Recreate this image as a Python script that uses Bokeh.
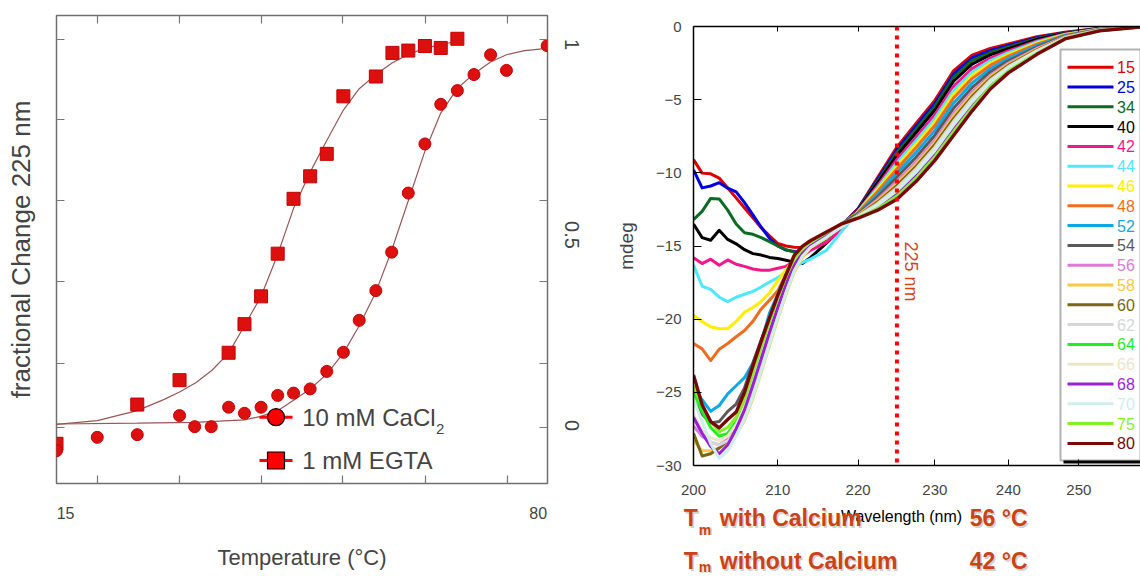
import math
from bokeh.plotting import figure
from bokeh.models import (Range1d, FixedTicker, LinearAxis, Label, Span, BoxAnnotation,
                          NumeralTickFormatter, CustomJSTickFormatter)
from bokeh.layouts import row, column
from bokeh.embed import file_html
from bokeh.resources import INLINE
from bokeh.core.properties import value

# ---------------- left panel data (fractional change at 225 nm) ----------------
temp_egta = [15.0, 25.7, 31.3, 37.8, 39.9, 42.1, 44.3, 46.4, 48.6, 50.8, 53.0, 57.3, 59.5, 61.6, 63.8, 65.9, 68.1]
frac_egta = [-0.048, 0.055, 0.119, 0.191, 0.266, 0.339, 0.451, 0.595, 0.654, 0.713, 0.864, 0.916, 0.978, 0.984, 0.996, 0.991, 1.015]
temp_ca = [15.0, 20.4, 25.7, 31.3, 33.3, 35.5, 37.8, 39.9, 42.1, 44.3, 46.4, 48.6, 50.8, 53.0, 55.1, 57.3,
           59.4, 61.6, 63.8, 65.9, 68.1, 70.3, 72.5, 74.6, 80.0]
frac_ca = [-0.066, -0.031, -0.024, 0.026, -0.003, -0.003, 0.048, 0.032, 0.048, 0.079, 0.085, 0.096, 0.142, 0.192,
           0.276, 0.354, 0.455, 0.610, 0.739, 0.843, 0.879, 0.921, 0.973, 0.932, 0.997]
fit_egta_t = [15.0, 20.4, 25.7, 29.2, 31.3, 33.5, 35.6, 37.8, 39.9, 42.1, 44.3, 46.4, 48.6, 50.8, 53.0, 55.1,
              57.3, 59.5, 61.6, 63.8, 65.9, 68.1]
fit_egta_f = [0.003, 0.013, 0.039, 0.068, 0.088, 0.113, 0.145, 0.19, 0.262, 0.339, 0.449, 0.57, 0.665, 0.748,
              0.828, 0.884, 0.921, 0.952, 0.974, 0.99, 1.0, 1.008]
fit_ca_t = [15.0, 25.7, 33.3, 39.9, 42.1, 44.3, 46.4, 48.6, 50.8, 53.0, 55.1, 57.3, 59.4, 61.6, 63.8, 65.9,
            68.1, 70.3, 72.5, 74.6, 77.0, 80.0]
fit_ca_f = [0.004, 0.006, 0.008, 0.015, 0.024, 0.039, 0.066, 0.096, 0.135, 0.19, 0.262, 0.35, 0.46, 0.59,
            0.72, 0.82, 0.885, 0.923, 0.954, 0.973, 0.984, 0.99]
temp_ticks = [20.4, 31.3, 42.1, 52.9, 63.9, 74.8]
frac_ticks = [-0.006, 0.162, 0.379, 0.591, 0.802, 1.012]
frac_label_ticks = [0, 0.5, 1]
temp_label_ticks = [16.2, 78.8]          # where the "15" and "80" labels sit
legend_left = ["10 mM CaCl", "1 mM EGTA"]

# ---------------- right panel data (CD spectra, mdeg) ----------------
wavelength = [200, 201, 202, 203, 204, 205, 206, 207, 208, 209, 210, 211, 212, 213, 214, 216, 218, 220,
              222.5, 225, 227.5, 230, 232.5, 235, 237.5, 240, 244, 248, 253, 259]
cd_15 = [-9.10, -10.02, -10.07, -10.36, -11.03, -11.71, -12.40, -13.08, -13.75, -14.31, -14.83, -15.00, -15.08, -15.10, -14.85, -14.30, -13.55, -12.44, -10.33, -8.24, -6.62, -5.05, -3.03, -1.96, -1.50, -1.20, -0.70, -0.40, -0.12, 0.00]
cd_25 = [-9.80, -11.03, -10.90, -10.67, -11.05, -11.30, -12.04, -12.87, -13.72, -14.47, -15.00, -15.28, -15.38, -15.41, -15.00, -14.25, -13.55, -12.47, -10.44, -8.42, -6.82, -5.26, -3.25, -2.15, -1.64, -1.30, -0.76, -0.42, -0.13, 0.00]
cd_34 = [-13.20, -12.63, -11.75, -11.78, -12.55, -13.50, -14.10, -14.20, -14.43, -14.70, -15.00, -15.25, -15.42, -15.50, -15.20, -14.50, -13.65, -12.51, -10.56, -8.60, -7.02, -5.46, -3.47, -2.34, -1.78, -1.40, -0.82, -0.45, -0.14, 0.00]
cd_40 = [-13.50, -14.43, -14.61, -13.93, -14.55, -14.85, -15.25, -15.52, -15.62, -15.78, -15.85, -15.97, -16.10, -16.20, -15.80, -14.80, -13.75, -12.55, -10.69, -8.81, -7.26, -5.71, -3.74, -2.57, -1.94, -1.52, -0.89, -0.47, -0.15, 0.00]
cd_42 = [-15.80, -16.20, -15.90, -16.31, -15.95, -16.25, -16.39, -16.57, -16.65, -16.65, -16.52, -16.39, -16.05, -15.70, -15.30, -14.75, -13.80, -12.60, -10.87, -9.09, -7.58, -6.03, -4.09, -2.88, -2.16, -1.67, -0.99, -0.51, -0.16, -0.01]
cd_44 = [-16.30, -17.75, -17.97, -18.50, -18.80, -18.50, -18.30, -18.10, -17.80, -17.46, -17.16, -16.80, -16.43, -16.14, -15.90, -15.30, -13.95, -12.64, -11.01, -9.31, -7.81, -6.28, -4.36, -3.11, -2.33, -1.79, -1.06, -0.54, -0.17, -0.01]
cd_46 = [-19.75, -20.16, -20.52, -20.65, -20.64, -20.15, -19.52, -19.20, -18.79, -18.20, -17.37, -16.62, -15.92, -15.46, -15.10, -14.45, -13.50, -12.68, -11.14, -9.52, -8.05, -6.53, -4.62, -3.34, -2.50, -1.91, -1.13, -0.56, -0.18, -0.01]
cd_48 = [-21.66, -22.03, -22.83, -22.05, -21.66, -21.20, -20.77, -20.15, -19.30, -18.70, -18.05, -16.95, -15.90, -15.35, -15.00, -14.40, -13.50, -12.72, -11.28, -9.74, -8.29, -6.77, -4.89, -3.56, -2.66, -2.03, -1.20, -0.59, -0.20, -0.01]
cd_52 = [-24.73, -25.50, -26.30, -25.90, -25.10, -24.55, -24.00, -23.00, -21.55, -19.57, -18.30, -17.00, -16.10, -15.40, -14.95, -14.35, -13.45, -12.77, -11.46, -10.02, -8.61, -7.10, -5.24, -3.87, -2.89, -2.19, -1.30, -0.63, -0.21, -0.02]
cd_54 = [-25.60, -26.50, -27.10, -27.00, -26.30, -25.80, -24.70, -23.00, -21.40, -19.90, -18.40, -17.00, -15.80, -15.15, -14.75, -14.20, -13.45, -12.82, -11.64, -10.30, -8.93, -7.43, -5.59, -4.18, -3.11, -2.34, -1.40, -0.66, -0.22, -0.02]
cd_56 = [-27.30, -28.00, -28.40, -28.60, -28.20, -27.30, -26.20, -24.60, -22.80, -21.00, -19.30, -17.70, -16.30, -15.50, -15.00, -14.35, -13.60, -12.88, -11.82, -10.59, -9.25, -7.76, -5.95, -4.48, -3.33, -2.50, -1.49, -0.70, -0.24, -0.02]
cd_58 = [-28.30, -29.00, -29.00, -28.80, -28.50, -27.90, -26.90, -25.40, -23.60, -21.80, -20.00, -18.30, -16.80, -15.80, -15.10, -14.40, -13.65, -12.90, -11.91, -10.73, -9.41, -7.92, -6.12, -4.63, -3.44, -2.58, -1.54, -0.72, -0.25, -0.02]
cd_60 = [-27.80, -29.35, -29.20, -28.80, -28.30, -27.50, -26.40, -24.80, -23.00, -21.20, -19.50, -17.90, -16.50, -15.60, -15.05, -14.35, -13.60, -12.93, -12.00, -10.87, -9.57, -8.08, -6.30, -4.79, -3.55, -2.66, -1.59, -0.73, -0.25, -0.02]
cd_62 = [-26.80, -27.80, -28.40, -28.60, -28.30, -27.60, -26.60, -25.00, -23.20, -21.40, -19.60, -18.00, -16.60, -15.60, -15.00, -14.30, -13.60, -12.95, -12.09, -11.02, -9.72, -8.25, -6.48, -4.94, -3.66, -2.74, -1.64, -0.75, -0.26, -0.02]
cd_64 = [-25.00, -26.30, -27.40, -28.00, -27.80, -27.00, -25.80, -24.00, -22.20, -20.50, -18.90, -17.40, -16.10, -15.30, -14.80, -14.20, -13.50, -13.01, -12.27, -11.30, -10.04, -8.58, -6.83, -5.25, -3.88, -2.89, -1.73, -0.79, -0.27, -0.03]
cd_66 = [-26.50, -27.60, -28.10, -28.30, -28.00, -27.20, -26.00, -24.30, -22.50, -20.70, -19.00, -17.50, -16.20, -15.40, -14.90, -14.25, -13.55, -12.98, -12.18, -11.16, -9.88, -8.41, -6.65, -5.09, -3.77, -2.82, -1.68, -0.77, -0.27, -0.02]
cd_68 = [-26.70, -27.80, -28.70, -29.20, -28.60, -27.50, -26.20, -24.50, -22.70, -20.90, -19.20, -17.60, -16.30, -15.50, -15.00, -14.30, -13.60, -13.02, -12.31, -11.37, -10.12, -8.66, -6.92, -5.32, -3.94, -2.93, -1.76, -0.80, -0.28, -0.03]
cd_70 = [-25.50, -27.00, -28.50, -29.50, -29.00, -28.00, -26.80, -25.30, -23.50, -21.70, -19.90, -18.20, -16.70, -15.70, -15.10, -14.40, -13.65, -13.00, -12.22, -11.23, -9.96, -8.49, -6.74, -5.17, -3.83, -2.85, -1.71, -0.78, -0.27, -0.03]
cd_75 = [-24.60, -25.90, -27.00, -27.70, -27.40, -26.70, -25.50, -23.70, -21.90, -20.20, -18.60, -17.10, -15.90, -15.20, -14.75, -14.10, -13.45, -13.06, -12.45, -11.59, -10.36, -8.90, -7.18, -5.55, -4.10, -3.05, -1.83, -0.82, -0.29, -0.03]
cd_80 = [-23.82, -25.85, -27.00, -27.43, -26.86, -26.35, -25.00, -23.20, -21.50, -19.90, -18.38, -16.97, -15.65, -15.02, -14.64, -14.05, -13.47, -13.10, -12.55, -11.80, -10.60, -9.15, -7.45, -5.78, -4.27, -3.17, -1.90, -0.85, -0.30, -0.03]
cd_series = [cd_15, cd_25, cd_34, cd_40, cd_42, cd_44, cd_46, cd_48, cd_52, cd_54,
             cd_56, cd_58, cd_60, cd_62, cd_64, cd_66, cd_68, cd_70, cd_75, cd_80]
temps = ["15", "25", "34", "40", "42", "44", "46", "48", "52", "54",
         "56", "58", "60", "62", "64", "66", "68", "70", "75", "80"]
colors = ["#dc0000", "#0000dc", "#0b6b24", "#000000", "#f5168c", "#4de8ff", "#ffee00", "#f06c1e",
          "#0ea8e6", "#5a5a5a", "#dc7ad8", "#fbc843", "#7b6414", "#d6d6d6", "#1fee1f", "#ede5c8",
          "#9b1fd6", "#cdeeea", "#86f026", "#780808"]
wl_ticks = [200, 210, 220, 230, 240, 250]
mdeg_ticks = [0, -5, -10, -15, -20, -25, -30]
marker_wl = 225
tm_rows = [("with Calcium", "56 °C"), ("without Calcium", "42 °C")]

FONT = "Liberation Sans"
H = 576

# ================= LEFT FIGURE =================
L_W, L_left, L_top, L_fw, L_fh = 600, 56, 15, 491, 468
LX0, LX1 = 15.0, 80.04
LY0, LY1 = -0.1522, 1.0761


def lx(px):
    return LX0 + (px - L_left) * (LX1 - LX0) / L_fw


def ly(py):
    return LY1 - (py - L_top) * (LY1 - LY0) / L_fh


p1 = figure(width=L_W, height=H, x_range=Range1d(LX0, LX1), y_range=Range1d(LY0, LY1),
            x_axis_type=None, y_axis_type=None, output_backend="svg", toolbar_location=None,
            min_border_left=L_left, min_border_right=L_W - L_left - L_fw,
            min_border_top=L_top, min_border_bottom=H - L_top - L_fh)
p1.outline_line_color = "#6f6f6f"
p1.outline_line_width = 1.5


def tick_axis(ticks, length, color="#777777", width=1.2):
    # an axis that only draws inward tick marks (labels switched off)
    return LinearAxis(ticker=FixedTicker(ticks=ticks), major_label_text_font_size="0px",
                      major_label_text_color=None,
                      axis_line_color=None, major_tick_in=length, major_tick_out=0,
                      minor_tick_line_color=None, major_tick_line_color=color,
                      major_tick_line_width=width, major_label_standoff=0)


# bottom: tick marks, then "15"/"80" labels with the axis title
p1.add_layout(tick_axis(temp_ticks, 8), "below")
bx = LinearAxis(ticker=FixedTicker(ticks=temp_label_ticks),
                formatter=CustomJSTickFormatter(code="return tick < 50 ? '15' : '80';"),
                axis_line_color=None, major_tick_in=0, major_tick_out=0, minor_tick_line_color=None,
                major_label_text_font=FONT, major_label_text_font_size="16px",
                major_label_standoff=23, axis_label="Temperature (°C)", axis_label_text_font=FONT,
                axis_label_text_font_size="22px", axis_label_text_font_style="normal",
                axis_label_standoff=23)
p1.add_layout(bx, "below")
p1.add_layout(tick_axis(temp_ticks, 8), "above")
lax = tick_axis(frac_ticks, 8)
lax.axis_label = "fractional Change 225 nm"
lax.axis_label_text_font = FONT
lax.axis_label_text_font_size = "26px"
lax.axis_label_text_font_style = "normal"
lax.axis_label_standoff = 21
p1.add_layout(lax, "left")
p1.add_layout(tick_axis(frac_ticks, 8), "right")
rlab = LinearAxis(ticker=FixedTicker(ticks=frac_label_ticks), axis_line_color=None, major_tick_in=0,
                  major_tick_out=0, minor_tick_line_color=None, major_label_text_font=FONT,
                  major_label_text_font_size="20px", major_label_orientation="parallel",
                  major_label_standoff=17)
p1.add_layout(rlab, "right")

p1.line(fit_egta_t, fit_egta_f, line_color="#9a5656", line_width=1.2)
p1.line(fit_ca_t, fit_ca_f, line_color="#9a5656", line_width=1.2)
p1.scatter(temp_egta, frac_egta, marker="square", size=13, fill_color="#dd1010", line_color="#c40000")
p1.scatter(temp_ca, frac_ca, marker="circle", size=12, fill_color="#dd1010", line_color="#c40000")

# legend (left panel)
for i, (py, mk) in enumerate([(416.7, "circle"), (460.0, "square")]):
    p1.line([lx(259), lx(292)], [ly(py), ly(py)], line_color="#ff0000", line_width=3)
    p1.scatter([lx(275.5)], [ly(py)], marker=mk, size=17, fill_color="#ff0000",
               line_color="black", line_width=1.2)
    p1.add_layout(Label(x=lx(301.7), y=ly(py), text=legend_left[i], text_font=FONT,
                        text_font_size="24px", text_baseline="middle", text_align="left"))
p1.add_layout(Label(x=lx(435.5), y=ly(428.5), text="2", text_font=FONT, text_font_size="15px",
                    text_baseline="middle", text_align="left"))

# ================= RIGHT FIGURE =================
R_W, R_left, R_top, R_fw, R_fh = 540, 93, 26, 447, 439
R_H = 505
PXLN = 1727.0  # px per ln-unit of wavelength
RX1 = 200 * math.exp(R_fw / PXLN)


def rx(px):
    return 200 * math.exp((px - (L_W + R_left)) / PXLN)


def ry(py):
    return -(py - R_top) * 30.0 / R_fh


p2 = figure(width=R_W, height=R_H, x_axis_type="log", x_range=Range1d(200, RX1), y_range=Range1d(-30, 0),
            output_backend="svg", toolbar_location=None,
            min_border_left=R_left, min_border_right=0, min_border_top=R_top,
            min_border_bottom=R_H - R_top - R_fh)
p2.outline_line_color = None
p2.grid.visible = False

xa = p2.xaxis[0]
xa.ticker = FixedTicker(ticks=wl_ticks)
xa.formatter = NumeralTickFormatter(format="0")
xa.major_tick_in = 6
xa.major_tick_out = 0
xa.minor_tick_line_color = None
xa.axis_line_width = 1.5
xa.major_label_text_font = FONT
xa.major_label_text_font_size = "15px"
xa.major_label_standoff = 19

ya = p2.yaxis[0]
ya.ticker = FixedTicker(ticks=mdeg_ticks)
ya.major_tick_in = 8
ya.major_tick_out = 0
ya.minor_tick_line_color = None
ya.axis_line_width = 1.5
ya.major_label_text_font = FONT
ya.major_label_text_font_size = "15px"
ya.major_label_standoff = 12
ya.axis_label = "mdeg"
ya.axis_label_text_font = FONT
ya.axis_label_text_font_size = "19px"
ya.axis_label_text_font_style = "normal"
ya.axis_label_standoff = 16

top_ax = LinearAxis(ticker=FixedTicker(ticks=wl_ticks[1:]), major_label_text_font_size="0px",
                    major_label_text_color=None,
                    major_tick_in=5, major_tick_out=0, minor_tick_line_color=None,
                    axis_line_width=1.5, major_label_standoff=0)
p2.add_layout(top_ax, "above")

# legend box (underlay, so curves stay visible)
p2.add_layout(BoxAnnotation(left=rx(1063), top=ry(52), bottom=ry(463), fill_color="black", fill_alpha=1,
                            line_color=None, level="underlay"))
p2.add_layout(BoxAnnotation(left=rx(1060), top=ry(49), bottom=ry(460), fill_color="white", fill_alpha=1,
                            line_color="black", line_width=2, level="underlay"))

for ys, c in zip(cd_series, colors):
    p2.line(wavelength, ys, line_color=c, line_width=3.4 if c == "#780808" else 3, line_join="round")

p2.add_layout(Span(location=marker_wl, dimension="height", line_color="#ff0000", line_width=4,
                   line_dash="4 5"))

leg_y = [ry(66.7 + 19.8 * i) for i in range(len(temps))]
p2.segment(x0=[rx(1067)] * len(temps), y0=leg_y, x1=[rx(1113)] * len(temps), y1=leg_y,
           line_color=colors, line_width=3)
p2.text(x=[rx(1116.5)] * len(temps), y=leg_y, text=temps, text_color=colors,
        text_font=value(FONT), text_font_size="16px", text_baseline="middle", text_align="left")

p2.add_layout(Label(x=rx(910), y=ry(271), text="225 nm", angle=-math.pi / 2, text_font=FONT,
                    text_font_size="18px", text_color="#d5431a", text_align="center", text_baseline="middle"))

# ================= TEXT STRIP under the right panel =================
S_H = H - R_H
p3 = figure(width=R_W, height=S_H, x_range=Range1d(0, R_W), y_range=Range1d(S_H, 0),
            x_axis_type=None, y_axis_type=None, output_backend="svg", toolbar_location=None,
            min_border_left=0, min_border_right=0, min_border_top=0, min_border_bottom=0)
p3.outline_line_color = None
p3.grid.visible = False


def sx(px):
    return px - L_W


def sy(py):
    return py - R_H


p3.text(x=[sx(901)], y=[sy(516)], text=["Wavelength (nm)"], text_font=value(FONT), text_font_size="16px",
        text_align="center", text_baseline="middle", text_color="black")

TM_COLOR = "#cc4214"
for (txt, val), mid, sub in zip(tm_rows, [517.8, 560.8], [529.0, 566.5]):
    for dx, dy, col, alpha in [(1.5, 1.5, "#9a9a9a", 0.45), (0, 0, TM_COLOR, 1.0)]:
        p3.text(x=[sx(683.3 + dx), sx(719.3 + dx), sx(969.3 + dx)], y=[sy(mid + dy)] * 3,
                text=["T", txt, val], text_font=value(FONT), text_font_style="bold",
                text_font_size="23px", text_color=col, text_alpha=alpha, text_baseline="middle")
        p3.text(x=[sx(698.3 + dx)], y=[sy(sub + dy * 0.5)], text=["m"], text_font=value(FONT),
                text_font_style="bold", text_font_size="14px", text_color=col, text_alpha=alpha,
                text_baseline="middle")

layout = row(p1, column(p2, row(p3)))
open("out.html", "w").write(file_html(layout, INLINE))
